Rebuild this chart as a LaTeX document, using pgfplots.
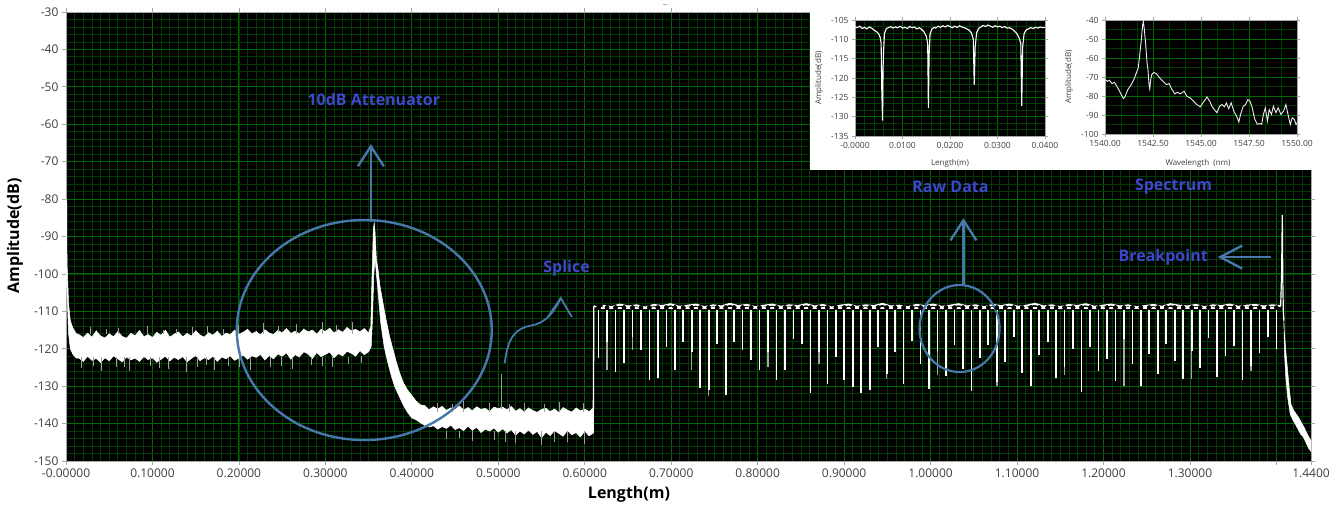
\documentclass[border=0pt]{standalone}
\usepackage{fontspec}
\setmainfont{Open Sans}
\usepackage{pgfplots}
\usepackage{pgfplotstable}
\pgfplotsset{compat=1.18}
\usetikzlibrary{arrows.meta}
\definecolor{annot}{RGB}{70,120,170}
\definecolor{atext}{RGB}{63,72,204}
\definecolor{gmaj}{RGB}{0,105,0}
\definecolor{gmin}{RGB}{0,58,0}
\definecolor{tlab}{RGB}{64,64,64}

\pgfplotstableread{
x d g b
0.6160 -122.6 -122.6 -108.5
0.6258 -118.1 -125.7 -108.9
0.6356 -126.1 -126.1 -108.2
0.6454 -123.9 -123.9 -108.7
0.6552 -116.8 -120.3 -108.4
0.6650 -120.3 -120.3 -109.0
0.6748 -128.4 -128.4 -108.3
0.6846 -127.9 -127.9 -108.6
0.6944 -119.5 -119.5 -108.1
0.7042 -125.7 -125.7 -108.8
0.7140 -118.1 -118.1 -108.5
0.7238 -120.8 -125.7 -108.2
0.7336 -130.6 -130.6 -108.9
0.7434 -131.0 -132.5 -108.4
0.7532 -118.6 -118.6 -108.7
0.7630 -132.4 -132.4 -108.0
0.7728 -118.1 -118.1 -108.6
0.7826 -120.3 -120.3 -108.3
0.7924 -123.0 -123.0 -108.9
0.8022 -125.7 -125.7 -108.5
0.8120 -120.8 -125.0 -108.2
0.8218 -128.4 -128.4 -108.8
0.8316 -125.7 -125.7 -108.4
0.8414 -117.3 -117.3 -108.6
0.8512 -118.6 -118.6 -108.1
0.8610 -131.9 -131.9 -108.7
0.8708 -120.8 -124.0 -108.3
0.8806 -129.3 -129.3 -109.0
0.8904 -122.1 -122.1 -108.5
0.9002 -128.4 -128.4 -108.2
0.9100 -130.1 -130.1 -108.8
0.9198 -131.9 -131.9 -108.4
0.9296 -131.0 -131.0 -108.6
0.9394 -119.5 -119.5 -108.0
0.9492 -126.8 -128.0 -108.7
0.9590 -121.0 -121.0 -108.5
0.9688 -129.5 -129.5 -108.9
0.9786 -117.8 -117.8 -108.3
0.9884 -124.2 -124.2 -108.6
0.9982 -130.8 -130.8 -108.2
1.0080 -120.5 -127.0 -108.8
1.0178 -127.3 -127.3 -108.5
1.0276 -118.9 -118.9 -108.1
1.0374 -125.5 -125.5 -108.7
1.0472 -131.2 -131.2 -108.4
1.0570 -122.4 -122.4 -108.9
1.0668 -119.0 -119.0 -108.3
1.0766 -128.8 -130.0 -108.6
1.0864 -123.6 -123.6 -108.2
1.0962 -116.9 -116.9 -108.8
1.1060 -126.5 -126.5 -108.5
1.1158 -130.0 -130.0 -108.0
1.1256 -121.7 -121.7 -108.7
1.1354 -118.3 -118.3 -108.4
1.1452 -127.9 -127.9 -108.9
1.1550 -124.8 -127.0 -108.3
1.1648 -120.2 -120.2 -108.6
1.1746 -131.5 -131.5 -108.1
1.1844 -119.6 -119.6 -108.8
1.1942 -125.9 -125.9 -108.5
1.2040 -122.8 -122.8 -108.2
1.2138 -128.6 -128.6 -108.7
1.2236 -117.5 -130.0 -108.4
1.2334 -124.0 -124.0 -108.9
1.2432 -129.9 -129.9 -108.6
1.2530 -121.3 -121.3 -108.3
1.2628 -126.7 -126.7 -108.8
1.2726 -118.7 -118.7 -108.1
1.2824 -123.3 -123.3 -108.5
1.2922 -128.1 -128.1 -108.7
1.3020 -120.6 -128.0 -108.3
1.3118 -125.2 -125.2 -108.9
1.3216 -117.2 -117.2 -108.4
1.3314 -127.6 -127.6 -108.6
1.3412 -122.0 -122.0 -108.2
1.3510 -119.3 -119.3 -108.8
1.3608 -128.4 -128.4 -108.5
1.3706 -124.5 -126.0 -108.3
1.3804 -121.1 -121.1 -108.7
1.3902 -116.8 -116.8 -108.4
1.4000 -120.0 -120.0 -108.6
}\dips

\begin{document}
\begin{tikzpicture}
\useasboundingbox (0pt,0pt) rectangle (1335pt,505pt);
\fill[white] (0pt,0pt) rectangle (1335pt,505pt);
\begin{axis}[
  at={(66pt,44pt)}, anchor=south west,
  scale only axis, width=1245pt, height=449pt,
  xmin=0, xmax=1.44, ymin=-150, ymax=-30,
  axis background/.style={fill=black},
  axis line style={draw=gray!70, line width=0.8pt},
  xtick={0,0.1,0.2,0.3,0.4,0.5,0.6,0.7,0.8,0.9,1.0,1.1,1.2,1.3,1.4,1.44},
  xticklabels={-0.00000,0.10000,0.20000,0.30000,0.40000,0.50000,0.60000,0.70000,0.80000,0.90000,1.00000,1.10000,1.20000,1.30000,{},1.4400},
  ytick={-150,-140,-130,-120,-110,-100,-90,-80,-70,-60,-50,-40,-30},
  yticklabels={-150,-140,-130,-120,-110,-100,-90,-80,-70,-60,-50,-40,-30},
  minor xtick={0,0.01,...,1.445},
  minor ytick={-150,-148,...,-30},
  grid=both,
  major grid style={draw=gmaj, line width=0.9pt},
  minor grid style={draw=gmin, line width=0.8pt},
  tick align=outside, major tick length=4pt, minor tick length=0pt,
  tick style={draw=gray!70, line width=0.8pt},
  ticklabel style={font=\fontsize{12}{14}\selectfont, text=tlab},
  clip=true,
]
% band 0 - 0.61 (polygon: upper envelope then lower envelope)
\addplot[draw=white, fill=white, line width=0.5pt] coordinates {
(0.0,-80) (0.0009,-81) (0.0012,-97) (0.003,-108) (0.005,-112.5) (0.008,-114.5) (0.012,-116)
(0.015,-116.2) (0.020,-117.0) (0.025,-115.8) (0.030,-116.9) (0.035,-115.2) (0.040,-116.6)
(0.045,-117.1) (0.050,-116.0) (0.055,-116.8) (0.060,-115.4) (0.065,-116.7) (0.070,-117.2)
(0.075,-115.9) (0.080,-116.5) (0.085,-115.1) (0.090,-116.8) (0.095,-116.2) (0.100,-117.0)
(0.105,-115.6) (0.110,-116.4) (0.115,-115.0) (0.120,-116.9) (0.125,-116.1) (0.130,-115.5)
(0.135,-116.8) (0.140,-115.9) (0.145,-116.6) (0.150,-115.2) (0.155,-116.3) (0.160,-116.9)
(0.165,-115.7) (0.170,-116.4) (0.175,-115.3) (0.180,-116.7) (0.185,-115.8) (0.190,-116.2)
(0.195,-115.0) (0.200,-116.1) (0.205,-115.6) (0.210,-114.8) (0.215,-116.0) (0.220,-115.4)
(0.225,-116.3) (0.230,-114.9) (0.235,-115.8) (0.240,-116.2) (0.245,-115.1) (0.250,-115.7)
(0.255,-114.6) (0.260,-115.9) (0.265,-115.3) (0.270,-116.0) (0.275,-114.7) (0.280,-115.5)
(0.285,-115.0) (0.290,-116.1) (0.295,-114.8) (0.300,-115.4) (0.305,-114.5) (0.310,-115.8)
(0.315,-114.9) (0.320,-115.6) (0.325,-114.3) (0.330,-115.2) (0.335,-114.8) (0.340,-115.5)
(0.345,-114.6) (0.350,-115.8)
(0.3525,-114) (0.354,-100) (0.3555,-88) (0.3565,-86.3) (0.3575,-89) (0.359,-96) (0.361,-99)
(0.363,-103) (0.366,-107) (0.370,-112) (0.374,-116.5) (0.378,-120) (0.382,-123.5) (0.386,-126.5)
(0.390,-129) (0.395,-131) (0.400,-132.5) (0.405,-134) (0.410,-135) (0.415,-135.2)
(0.420,-136.3) (0.425,-135.5) (0.430,-136.1) (0.435,-135.4) (0.440,-136.5) (0.445,-135.8)
(0.450,-136.2) (0.455,-135.3) (0.460,-136.4) (0.465,-135.7) (0.470,-136.6) (0.475,-135.5)
(0.480,-136.2) (0.485,-135.9) (0.490,-136.8) (0.495,-135.6) (0.500,-136.0) (0.505,-135.6)
(0.510,-136.3) (0.515,-135.4) (0.520,-136.7) (0.525,-136.0) (0.530,-136.9) (0.535,-135.8)
(0.540,-136.5) (0.545,-137.0) (0.550,-136.2) (0.555,-135.9) (0.560,-136.8) (0.565,-136.1)
(0.570,-137.0) (0.575,-135.7) (0.580,-136.4) (0.585,-136.9) (0.590,-135.8) (0.595,-136.6)
(0.600,-136.1) (0.605,-136.8) (0.609,-136.0)
(0.610,-142.5) (0.605,-143.3) (0.600,-142.0) (0.595,-143.6) (0.590,-142.4) (0.585,-143.0)
(0.580,-141.8) (0.575,-143.4) (0.570,-142.6) (0.565,-141.9) (0.560,-143.2) (0.555,-142.3)
(0.550,-143.8) (0.545,-142.1) (0.540,-142.9) (0.535,-141.7) (0.530,-142.8) (0.525,-142.0)
(0.520,-143.1) (0.515,-141.6) (0.510,-142.5) (0.505,-141.4) (0.500,-142.3) (0.495,-141.2)
(0.490,-142.0) (0.485,-141.5) (0.480,-142.4) (0.475,-141.0) (0.470,-141.8) (0.465,-140.7)
(0.460,-141.9) (0.455,-141.1) (0.450,-141.6) (0.445,-140.4) (0.440,-141.3) (0.435,-140.8)
(0.430,-141.5) (0.425,-140.6) (0.420,-140.9) (0.415,-140.5) (0.410,-139.8) (0.405,-139.0)
(0.400,-138.5) (0.395,-137.0) (0.390,-135.0) (0.385,-132.5) (0.380,-130.0) (0.376,-127.0)
(0.372,-123.5) (0.368,-119.5) (0.364,-113.0) (0.361,-105.0) (0.359,-100.0) (0.3575,-96)
(0.356,-100) (0.3545,-112) (0.353,-119.5)
(0.350,-120.8) (0.345,-121.6) (0.340,-120.5) (0.335,-122.0) (0.330,-121.2) (0.325,-120.7)
(0.320,-121.9) (0.315,-121.3) (0.310,-122.4) (0.305,-120.9) (0.300,-121.5) (0.295,-122.1)
(0.290,-121.0) (0.285,-122.6) (0.280,-121.4) (0.275,-120.8) (0.270,-122.2) (0.265,-121.6)
(0.260,-122.8) (0.255,-121.1) (0.250,-122.0) (0.245,-121.4) (0.240,-122.7) (0.235,-121.8)
(0.230,-123.0) (0.225,-121.5) (0.220,-122.3) (0.215,-121.9) (0.210,-122.8) (0.205,-121.7)
(0.200,-122.5) (0.195,-123.1) (0.190,-121.9) (0.185,-122.7) (0.180,-122.2) (0.175,-123.4)
(0.170,-122.0) (0.165,-122.9) (0.160,-122.4) (0.155,-123.2) (0.150,-121.8) (0.145,-122.6)
(0.140,-123.5) (0.135,-122.1) (0.130,-122.9) (0.125,-122.3) (0.120,-123.3) (0.115,-122.0)
(0.110,-122.8) (0.105,-123.6) (0.100,-122.4) (0.095,-122.9) (0.090,-122.1) (0.085,-123.4)
(0.080,-122.5) (0.075,-123.0) (0.070,-122.2) (0.065,-123.5) (0.060,-122.7) (0.055,-121.9)
(0.050,-123.2) (0.045,-122.4) (0.040,-123.7) (0.035,-122.6) (0.030,-123.1) (0.025,-122.0)
(0.020,-123.4) (0.015,-122.5) (0.012,-122.5) (0.008,-121.5) (0.005,-120) (0.003,-116)
(0.0012,-105) (0.0,-100)
} -- cycle;
% noise hairs
\addplot[gray!75, line width=0.6pt, unbounded coords=jump] coordinates {
(0.018,-122.3) (0.018,-125.2) (0.018,nan) (0.041,-122.3) (0.041,-126.0) (0.041,nan)
(0.058,-122.3) (0.058,-124.8) (0.058,nan) (0.073,-122.3) (0.073,-125.9) (0.073,nan)
(0.097,-122.3) (0.097,-124.6) (0.097,nan) (0.118,-122.3) (0.118,-125.5) (0.118,nan)
(0.139,-122.3) (0.139,-126.2) (0.139,nan) (0.152,-122.3) (0.152,-124.9) (0.152,nan)
(0.171,-122.3) (0.171,-125.6) (0.171,nan) (0.188,-122.3) (0.188,-124.7) (0.188,nan)
(0.213,-122.3) (0.213,-125.8) (0.213,nan) (0.236,-122.3) (0.236,-124.9) (0.236,nan)
(0.262,-122.3) (0.262,-125.3) (0.262,nan) (0.284,-122.3) (0.284,-124.4) (0.284,nan)
(0.308,-122.3) (0.308,-125.0) (0.308,nan) (0.326,-122.3) (0.326,-124.2) (0.326,nan)
(0.032,-122.3) (0.032,-124.6) (0.032,nan) (0.067,-122.3) (0.067,-124.9) (0.067,nan)
(0.108,-122.3) (0.108,-125.1) (0.108,nan) (0.162,-122.3) (0.162,-124.4) (0.162,nan)
(0.201,-122.3) (0.201,-124.8) (0.201,nan) (0.249,-122.3) (0.249,-124.5) (0.249,nan)
(0.296,-122.3) (0.296,-124.7) (0.296,nan) (0.341,-122) (0.341,-123.9) (0.341,nan)
(0.028,-116) (0.028,-114.2) (0.028,nan) (0.061,-116) (0.061,-114.5) (0.061,nan)
(0.094,-116) (0.094,-113.9) (0.094,nan) (0.127,-116) (0.127,-114.6) (0.127,nan)
(0.164,-116) (0.164,-113.8) (0.164,nan) (0.199,-116) (0.199,-113.6) (0.199,nan)
(0.228,-116) (0.228,-113.2) (0.228,nan) (0.266,-116) (0.266,-113.5) (0.266,nan)
(0.297,-116) (0.297,-112.9) (0.297,nan) (0.331,-116) (0.331,-112.8) (0.331,nan)
(0.047,-116) (0.047,-114.8) (0.047,nan) (0.112,-116) (0.112,-114.9) (0.112,nan)
(0.146,-116) (0.146,-114.3) (0.146,nan) (0.182,-116) (0.182,-114.6) (0.182,nan)
(0.246,-115.5) (0.246,-113.9) (0.246,nan) (0.313,-115.5) (0.313,-113.6) (0.313,nan)
(0.440,-142) (0.440,-144.2) (0.440,nan) (0.470,-142) (0.470,-144.6) (0.470,nan)
(0.495,-142) (0.495,-144.3) (0.495,nan) (0.520,-142) (0.520,-145.3) (0.520,nan)
(0.550,-142) (0.550,-145.6) (0.550,nan) (0.580,-142) (0.580,-145.0) (0.580,nan)
(0.600,-142) (0.600,-145.4) (0.600,nan) (0.455,-142) (0.455,-143.9) (0.455,nan)
(0.508,-142) (0.508,-144.8) (0.508,nan) (0.565,-142) (0.565,-144.9) (0.565,nan)
(0.430,-137) (0.430,-134.4) (0.430,nan) (0.460,-137) (0.460,-134.0) (0.460,nan)
(0.490,-137) (0.490,-134.5) (0.490,nan) (0.530,-137) (0.530,-134.6) (0.530,nan)
(0.570,-137) (0.570,-134.2) (0.570,nan) (0.598,-137) (0.598,-134.4) (0.598,nan)
(0.447,-137) (0.447,-134.9) (0.447,nan) (0.513,-137) (0.513,-134.8) (0.513,nan)
(0.553,-137) (0.553,-134.9) (0.553,nan)
};
% splice spike
\addplot[gray!85, line width=0.8pt] coordinates {(0.5035,-136) (0.5035,-126.8)};
% jump at 0.61
\addplot[white, line width=1.3pt] coordinates {(0.6098,-142.5) (0.6102,-125) (0.6105,-108.8) (0.6111,-108.6) (0.6160,-109.0)};
% dips: grey extensions then white
\addplot[only marks, mark=none, error bars/.cd, y dir=minus, y explicit, error mark=none,
  error bar style={draw=gray!70, line width=1.4pt}]
  table[x=x, y expr=-109, y error expr=-109-\thisrow{g}] {\dips};
\addplot[only marks, mark=none, error bars/.cd, y dir=minus, y explicit, error mark=none,
  error bar style={draw=white, line width=1.7pt}]
  table[x=x, y expr=-109, y error expr=-109-\thisrow{d}] {\dips};
% baseline (dip tops and jittered midpoints)
\addplot[white, line width=1.4pt, sharp plot] table[x=x, y expr=-109.1] {\dips};
\addplot[white, line width=2pt, sharp plot, line join=round] table[x expr=\thisrow{x}+0.0049, y=b] {\dips};
% breakpoint spike
\addplot[white, line width=1.2pt] coordinates {(1.4049,-108.6) (1.4060,-100) (1.4068,-84.3) (1.4074,-102) (1.4080,-110) (1.4086,-112.5)};
% tail
\addplot[draw=white, fill=white, line width=0.5pt] coordinates {
(1.408,-108) (1.409,-115) (1.411,-121) (1.413,-126) (1.415,-131) (1.417,-135) (1.420,-136.5)
(1.423,-137.5) (1.426,-138.5) (1.429,-139.8) (1.432,-141) (1.435,-142.5) (1.438,-143.8) (1.440,-144.5)
(1.440,-147.5) (1.437,-146.5) (1.434,-145) (1.431,-143.5) (1.428,-142.8) (1.425,-141.5) (1.422,-140.2)
(1.419,-139) (1.416,-137.5) (1.413,-133) (1.411,-128) (1.4095,-122) (1.4085,-112)
} -- cycle;

% annotations
\draw[annot, line width=2.4pt] (axis cs:0.345,-115) ellipse [x radius=127.5pt, y radius=110pt];
\draw[annot, line width=2.4pt, -{Straight Barb[length=20pt,width=26pt]}] (axis cs:0.3526,-86) -- (axis cs:0.3526,-65.3);
\draw[annot, line width=2.2pt] (axis cs:1.0335,-114.6) ellipse [x radius=40pt, y radius=43.5pt];
\draw[annot, line width=2.4pt, -{Straight Barb[length=20pt,width=26pt]}] (axis cs:1.038,-103) -- (axis cs:1.038,-85.1);
\draw[annot, line width=2.4pt, -{Straight Barb[length=22pt,width=23pt]}] (axis cs:1.394,-95.5) -- (axis cs:1.332,-95.5);
\draw[annot, line width=1.8pt] (axis cs:0.5075,-123.8) .. controls (axis cs:0.511,-117) and (axis cs:0.52,-114.5) .. (axis cs:0.538,-113.8) .. controls (axis cs:0.555,-113.2) and (axis cs:0.565,-110) .. (axis cs:0.5723,-106.45);
\draw[annot, line width=1.8pt] (axis cs:0.5572,-111.5) -- (axis cs:0.5723,-106.45) -- (axis cs:0.585,-111.5);
\begin{scope}[every node/.style={text=atext, font=\fontsize{16}{18}\selectfont\bfseries}]
\node at (axis cs:0.356,-53.5) {10dB Attenuator};
\node at (axis cs:0.579,-98.4) {Splice};
\node at (axis cs:1.023,-76.8) {Raw Data};
\node at (axis cs:1.281,-76.8) {Spectrum};
\node at (axis cs:1.269,-95.5) {Breakpoint};
\end{scope}
\end{axis}

\node[rotate=90, font=\fontsize{16}{18}\selectfont\bfseries, text=black] at (15pt,269pt) {Amplitude(dB)};
\node[font=\fontsize{16}{18}\selectfont\bfseries, text=black] at (629pt,11pt) {Length(m)};
\node[text=gray, font=\fontsize{9}{9}\selectfont] at (665pt,499pt) {–};

% inset panel
\fill[white] (810pt,335pt) rectangle (1320pt,505pt);

\begin{axis}[
  at={(855pt,369pt)}, anchor=south west,
  scale only axis, width=190pt, height=116pt,
  xmin=0, xmax=0.04, ymin=-135, ymax=-105,
  scaled x ticks=false,
  axis background/.style={fill=black},
  axis line style={draw=gray!70, line width=0.6pt},
  xtick={0,0.01,0.02,0.03,0.04},
  xticklabels={-0.0000,0.0100,0.0200,0.0300,0.0400},
  ytick={-135,-130,-125,-120,-115,-110,-105},
  yticklabels={-135,-130,-125,-120,-115,-110,-105},
  minor x tick num=4, minor y tick num=2,
  grid=both,
  major grid style={draw=gmaj, line width=0.7pt},
  minor grid style={draw=gmin, line width=0.6pt},
  tick align=outside, major tick length=3pt, minor tick length=0pt,
  tick style={draw=gray!70, line width=0.6pt},
  ticklabel style={font=\fontsize{8.5}{10}\selectfont, text=tlab},
]
\addplot[white, line width=1.1pt] coordinates {
(0,-106.8) (0.0005,-107.0) (0.001,-106.6) (0.0015,-107.2) (0.002,-106.9) (0.0025,-107.3) (0.003,-106.8)
(0.0035,-107.1) (0.004,-107.6) (0.0045,-108.0) (0.005,-108.6) (0.0053,-109.5) (0.0055,-111) (0.00565,-124)
(0.0058,-131) (0.0059,-118) (0.0060,-113.5) (0.0062,-108.5) (0.0066,-107.2) (0.007,-107.0) (0.0075,-106.7)
(0.008,-107.1) (0.0085,-106.8) (0.009,-107.0) (0.0095,-106.6) (0.010,-107.1) (0.0105,-106.9) (0.011,-107.2)
(0.0115,-106.7) (0.012,-107.0) (0.0125,-106.8) (0.013,-107.3) (0.0135,-107.0) (0.014,-107.4) (0.0145,-108.0)
(0.015,-109.2) (0.0153,-111) (0.01545,-127.8) (0.0156,-114) (0.0158,-108.6) (0.0162,-107.3) (0.0167,-106.9)
(0.017,-107.1) (0.0175,-106.6) (0.018,-106.9) (0.0185,-106.5) (0.019,-106.8) (0.0195,-106.4) (0.020,-106.7)
(0.0205,-107.0) (0.021,-106.6) (0.0215,-106.9) (0.022,-106.5) (0.0225,-106.8) (0.023,-107.0) (0.0235,-107.3)
(0.024,-107.6) (0.0245,-108.3) (0.0249,-110) (0.0251,-121.7) (0.0253,-112) (0.0256,-108.3) (0.026,-107.2)
(0.0265,-106.8) (0.027,-106.4) (0.0275,-106.7) (0.028,-106.3) (0.0285,-106.6) (0.029,-106.9) (0.0295,-106.5)
(0.030,-106.8) (0.0305,-106.6) (0.031,-107.0) (0.0315,-106.7) (0.032,-107.1) (0.0325,-107.0) (0.033,-107.3)
(0.0335,-107.8) (0.034,-108.4) (0.0345,-109.5) (0.0349,-111) (0.0351,-127.2) (0.0353,-112) (0.0356,-108.5)
(0.036,-107.6) (0.0365,-107.3) (0.037,-107.0) (0.0375,-107.2) (0.038,-106.9) (0.0385,-107.1) (0.039,-106.8)
(0.0395,-107.0) (0.040,-106.9)
};
\end{axis}

\begin{axis}[
  at={(1105pt,371pt)}, anchor=south west,
  scale only axis, width=192pt, height=114pt,
  xmin=1540, xmax=1550, ymin=-100, ymax=-40,
  axis background/.style={fill=black},
  axis line style={draw=gray!70, line width=0.6pt},
  xtick={1540,1542.5,1545,1547.5,1550},
  xticklabels={1540.00,1542.50,1545.00,1547.50,1550.00},
  ytick={-100,-90,-80,-70,-60,-50,-40},
  yticklabels={-100,-90,-80,-70,-60,-50,-40},
  minor x tick num=2, minor y tick num=1,
  grid=both,
  major grid style={draw=gmaj, line width=0.7pt},
  minor grid style={draw=gmin, line width=0.6pt},
  tick align=outside, major tick length=3pt, minor tick length=0pt,
  tick style={draw=gray!70, line width=0.6pt},
  ticklabel style={font=\fontsize{8.5}{10}\selectfont, text=tlab},
]
\addplot[white!85!gray, line width=0.9pt] coordinates {
(1540.0,-71.4) (1540.14,-72.3) (1540.23,-71.7) (1540.37,-73.5) (1540.49,-72.8) (1540.67,-75.8)
(1540.84,-79.2) (1540.96,-81.3) (1541.03,-80.6) (1541.19,-76.6) (1541.37,-74.0) (1541.54,-70.5)
(1541.66,-67.0) (1541.73,-65.3) (1541.80,-59.2) (1541.89,-50.5) (1541.96,-42.6) (1542.00,-40.9)
(1542.05,-45.2) (1542.12,-53.1) (1542.19,-62.7) (1542.24,-66.2) (1542.29,-74.0) (1542.33,-76.3)
(1542.38,-71.4) (1542.43,-68.8) (1542.54,-67.6) (1542.68,-68.3) (1542.85,-70.5) (1543.03,-72.3)
(1543.20,-74.0) (1543.34,-73.5) (1543.47,-76.3) (1543.64,-78.9) (1543.77,-78.0) (1543.91,-78.9)
(1544.12,-77.5) (1544.26,-80.1) (1544.43,-81.0) (1544.61,-82.7) (1544.78,-84.5) (1544.96,-85.7)
(1545.10,-83.6) (1545.22,-81.9) (1545.31,-80.5) (1545.45,-82.7) (1545.57,-85.4) (1545.69,-87.1)
(1545.83,-88.8) (1545.97,-85.4) (1546.09,-84.5) (1546.22,-85.7) (1546.32,-83.6) (1546.44,-86.7)
(1546.57,-83.6) (1546.71,-88.0) (1546.85,-90.6) (1546.97,-93.7) (1547.06,-89.7) (1547.20,-85.4)
(1547.32,-84.5) (1547.44,-81.9) (1547.55,-82.7) (1547.67,-86.2) (1547.79,-92.0) (1547.93,-94.9)
(1548.06,-94.5) (1548.16,-94.9) (1548.25,-89.7) (1548.35,-86.2) (1548.46,-93.2) (1548.55,-87.1)
(1548.67,-89.7) (1548.77,-85.4) (1548.90,-88.8) (1549.02,-86.2) (1549.16,-89.7) (1549.30,-88.0)
(1549.42,-84.5) (1549.55,-90.6) (1549.65,-95.0) (1549.75,-91.5) (1549.86,-92.3) (1549.95,-95.0)
(1550.0,-94.1)
};
\end{axis}

\node[rotate=90, font=\fontsize{8}{9}\selectfont, text=tlab] at (819pt,427pt) {Amplitude(dB)};
\node[rotate=90, font=\fontsize{8}{9}\selectfont, text=tlab] at (1069pt,428pt) {Amplitude(dB)};
\node[font=\fontsize{8}{9}\selectfont, text=tlab] at (950pt,342pt) {Length(m)};
\node[font=\fontsize{8}{9}\selectfont, text=tlab] at (1198pt,342pt) {Wavelength\ \ (nm)};
\end{tikzpicture}
\end{document}
